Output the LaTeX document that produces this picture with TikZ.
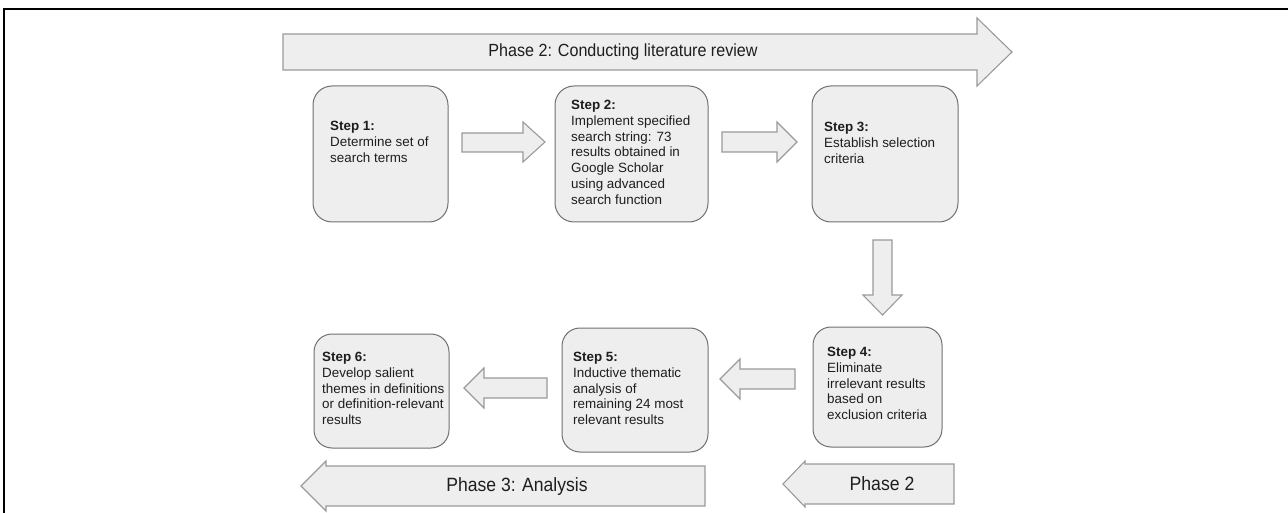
\documentclass[tikz,border=0pt]{standalone}
\usepackage{fontspec}
\setmainfont{Liberation Sans}
\definecolor{boxfill}{HTML}{EEEEEE}
\definecolor{boxline}{HTML}{707070}
\definecolor{arrline}{HTML}{9A9A9A}
\definecolor{txt}{HTML}{1E1E1E}
\begin{document}
\begin{tikzpicture}[x=1pt,y=-1pt,
  stepbox/.style={draw=boxline, fill=boxfill, line width=1pt, rounded corners=19pt, inner sep=0pt},
  steptext/.style={anchor=north west, align=left, inner sep=0pt, text=txt, font=\fontsize{13.4}{15.8}\selectfont},
  blockarrow/.style={draw=arrline, fill=boxfill, line width=1.1pt, line join=miter},
  phasetext/.style={inner sep=0pt, text=txt}]
\useasboundingbox (0,0) rectangle (1288,513);
% frame
\draw[line width=1.6pt, black] (4,513) -- (4,9.3) -- (1288,9.3);

% top phase arrow
\draw[blockarrow] (283,34) -- (977,34) -- (977,18) -- (1012,52) -- (977,86) -- (977,70) -- (283,70) -- cycle;
\node[phasetext, font=\fontsize{17.6}{20}\selectfont] (ph2top) at (623,52) {\scalebox{0.915}[1]{Phase 2: Conducting literature review}};

% step boxes
\node[stepbox, minimum width=135, minimum height=136] (s1) at (380.5,154) {};
\node[stepbox, minimum width=153, minimum height=136] (s2) at (631.5,154) {};
\node[stepbox, minimum width=146, minimum height=136] (s3) at (885,154) {};
\node[stepbox, minimum width=129, minimum height=120, rounded corners=18pt] (s4) at (877.5,387) {};
\node[stepbox, minimum width=146, minimum height=124, rounded corners=18pt] (s5) at (635,390) {};
\node[stepbox, minimum width=135, minimum height=114, rounded corners=18pt] (s6) at (381.5,391) {};

\node[steptext] (t1) at (330,121) {\textbf{Step 1:}\\Determine set of\\search terms};
\node[steptext] (t2) at (571,100) {\textbf{Step 2:}\\Implement specified\\search string: 73\\results obtained in\\Google Scholar\\using advanced\\search function};
\node[steptext] (t3) at (824,122) {\textbf{Step 3:}\\Establish selection\\criteria};
\node[steptext] (t4) at (827,347) {\textbf{Step 4:}\\Eliminate\\irrelevant results\\based on\\exclusion criteria};
\node[steptext] (t5) at (573,352) {\textbf{Step 5:}\\Inductive thematic\\analysis of\\remaining 24 most\\relevant results};
\node[steptext] (t6) at (322,352) {\textbf{Step 6:}\\Develop salient\\themes in definitions\\or definition-relevant\\results};

% block arrows between steps
\draw[blockarrow] (462,133) -- (523,133) -- (523,122) -- (545,142) -- (523,162) -- (523,152) -- (462,152) -- cycle;
\draw[blockarrow] (722,132) -- (777,132) -- (777,122) -- (797,142) -- (777,162) -- (777,152) -- (722,152) -- cycle;
\draw[blockarrow] (873,240) -- (892,240) -- (892,295) -- (902,295) -- (882.5,315) -- (863,295) -- (873,295) -- cycle;
\draw[blockarrow] (795,369) -- (740,369) -- (740,359) -- (720,379) -- (740,399) -- (740,389) -- (795,389) -- cycle;
\draw[blockarrow] (547,378) -- (484,378) -- (484,368) -- (464,388) -- (484,408) -- (484,398) -- (547,398) -- cycle;

% bottom phase arrows
\draw[blockarrow] (954,464) -- (805,464) -- (805,461) -- (783,484) -- (805,507) -- (805,504) -- (954,504) -- cycle;
\node[phasetext, font=\fontsize{19.3}{22}\selectfont] (ph2bot) at (882,484) {\scalebox{0.915}[1]{Phase 2}};
\draw[blockarrow] (705,466) -- (326,466) -- (326,461) -- (301,486) -- (326,511) -- (326,506) -- (705,506) -- cycle;
\node[phasetext, font=\fontsize{19.2}{22}\selectfont] (ph3) at (517,487) {\scalebox{0.915}[1]{Phase 3: Analysis}};
\end{tikzpicture}
\end{document}
